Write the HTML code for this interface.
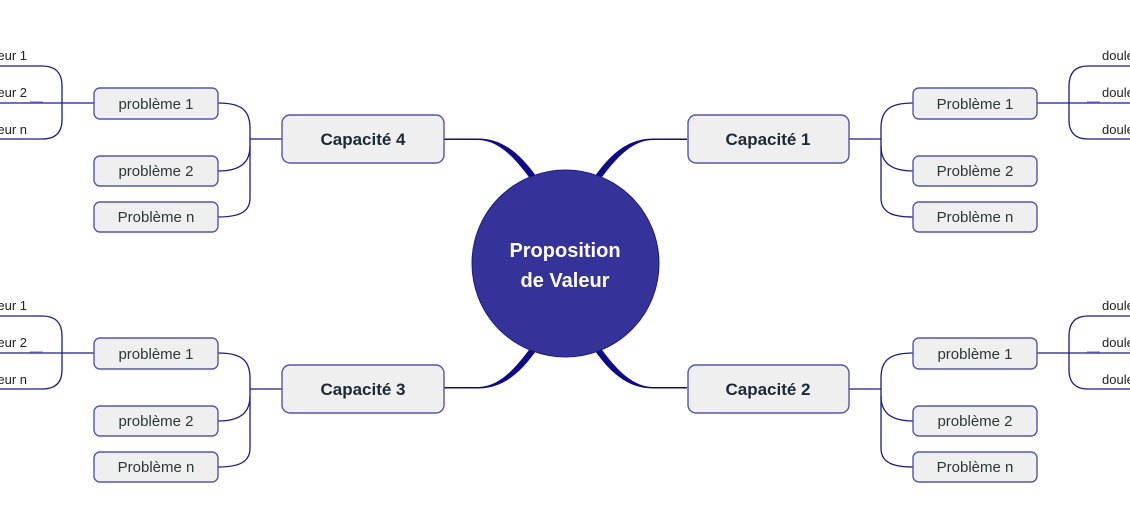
<!DOCTYPE html>
<html><head><meta charset="utf-8"><style>
html,body{margin:0;padding:0;background:#fff;}
svg{display:block;}
text{font-family:"Liberation Sans",sans-serif;}
.p{font-size:15px;fill:#2a3838;text-anchor:middle;}
.c{font-size:17px;font-weight:bold;fill:#1b2a36;text-anchor:middle;}
.l{font-size:13px;fill:#222;}
.ln{fill:none;stroke:#1a1a8c;stroke-width:1.3;}
.bx{fill:#efefef;stroke:#5555b0;stroke-width:1.4;}
</style></head><body>
<svg width="1130" height="528" viewBox="0 0 1130 528" xmlns="http://www.w3.org/2000/svg">
<defs>
<path id="thick" d="M444,138.5 L478,138.5 C502,138.5 520,153 537,177.5 L531.5,180.5 C515,158 499,140.3 478,140 L444,140 Z" fill="#0c0c86"/>
</defs>
<use href="#thick"/>
<use href="#thick" transform="translate(1131,0) scale(-1,1)"/>
<use href="#thick" transform="translate(0,527) scale(1,-1)"/>
<use href="#thick" transform="translate(1131,527) scale(-1,-1)"/>

<circle cx="565.5" cy="263.5" r="93.5" fill="#35339a" stroke="#1d1b7a" stroke-width="1"/>
<text x="565" y="257" font-size="20" font-weight="bold" fill="#fff" text-anchor="middle">Proposition</text>
<text x="565" y="287" font-size="20" font-weight="bold" fill="#fff" text-anchor="middle">de Valeur</text>

<g id="left">
<path class="ln" d="M282,139 L250,139"/>
<path class="ln" d="M218,103 C241,103 250,110 250,128 L250,198 C250,211 241,217 218,217"/>
<path class="ln" d="M250,146 C250,162 241,171 218,171"/>
<path class="ln" d="M94,103 L0,103"/>
<path class="ln" d="M0,66 L42,66 C56,66 62,73 62,86 L62,120 C62,132 56,139 42,139 L0,139"/>
<path d="M30,102 L43,102" stroke="#8080c8" stroke-width="1.2"/>
<rect class="bx" x="94" y="88" width="124" height="31" rx="6"/>
<rect class="bx" x="94" y="156" width="124" height="30" rx="6"/>
<rect class="bx" x="94" y="202" width="124" height="30" rx="6"/>
<rect class="bx" x="282" y="115" width="162" height="48" rx="8"/>
<text class="l" x="27" y="60" text-anchor="end">Douleur 1</text>
<text class="l" x="27" y="97" text-anchor="end">Douleur 2</text>
<text class="l" x="27" y="134" text-anchor="end">Douleur n</text>
</g>
<text class="p" x="156" y="109">problème 1</text>
<text class="p" x="156" y="176">problème 2</text>
<text class="p" x="156" y="222">Problème n</text>
<text class="c" x="363" y="145">Capacité 4</text>

<use href="#left" transform="translate(0,250)"/>
<text class="p" x="156" y="359">problème 1</text>
<text class="p" x="156" y="426">problème 2</text>
<text class="p" x="156" y="472">Problème n</text>
<text class="c" x="363" y="395">Capacité 3</text>

<g id="right">
<path class="ln" d="M849,139 L881,139"/>
<path class="ln" d="M913,103 C890,103 881,110 881,128 L881,198 C881,211 890,217 913,217"/>
<path class="ln" d="M881,146 C881,162 890,171 913,171"/>
<path class="ln" d="M1037,103 L1130,103"/>
<path class="ln" d="M1130,66 L1088,66 C1075,66 1069,73 1069,86 L1069,120 C1069,132 1075,139 1088,139 L1130,139"/>
<path d="M1087,102 L1100,102" stroke="#8080c8" stroke-width="1.2"/>
<rect class="bx" x="913" y="88" width="124" height="31" rx="6"/>
<rect class="bx" x="913" y="156" width="124" height="30" rx="6"/>
<rect class="bx" x="913" y="202" width="124" height="30" rx="6"/>
<rect class="bx" x="688" y="115" width="161" height="48" rx="8"/>
<text class="l" x="1102" y="60">douleur 1</text>
<text class="l" x="1102" y="97">douleur 2</text>
<text class="l" x="1102" y="134">douleur n</text>
</g>
<text class="p" x="975" y="109">Problème 1</text>
<text class="p" x="975" y="176">Problème 2</text>
<text class="p" x="975" y="222">Problème n</text>
<text class="c" x="768" y="145">Capacité 1</text>

<use href="#right" transform="translate(0,250)"/>
<text class="p" x="975" y="359">problème 1</text>
<text class="p" x="975" y="426">problème 2</text>
<text class="p" x="975" y="472">Problème n</text>
<text class="c" x="768" y="395">Capacité 2</text>
</svg>
</body></html>
